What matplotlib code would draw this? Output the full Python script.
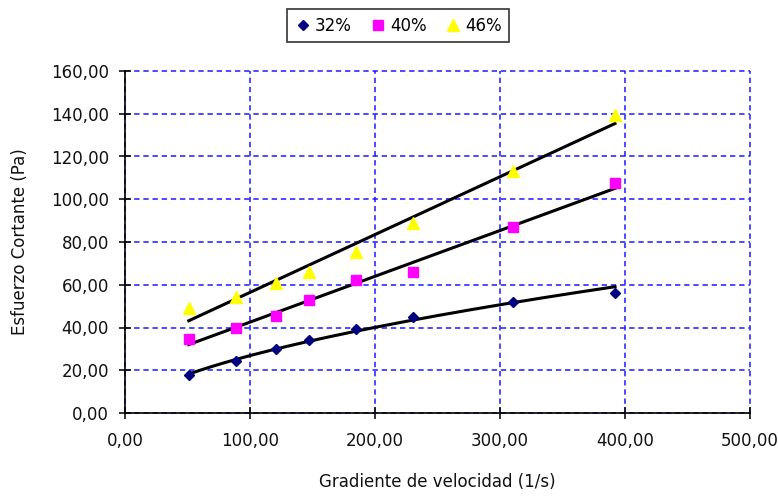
import numpy as np
import matplotlib
matplotlib.use("Agg")
import matplotlib.pyplot as plt
from matplotlib.ticker import FuncFormatter

plt.rcParams['font.family'] = ['DejaVu Sans']

# Shear rate (1/s)
gradiente = [51, 89, 121, 147, 185, 230, 310, 392]
# Shear stress (Pa) per concentration
esf_32 = [18.0, 24.5, 30.0, 34.0, 39.5, 45.0, 52.0, 56.0]
esf_40 = [34.5, 40.0, 45.5, 53.0, 62.0, 66.0, 87.0, 107.5]
esf_46 = [49.0, 54.5, 61.0, 66.0, 75.5, 89.0, 113.0, 139.5]

x_ticks = [0, 100, 200, 300, 400, 500]
y_ticks = [0, 20, 40, 60, 80, 100, 120, 140, 160]

fig = plt.figure(figsize=(7.78, 4.98), dpi=100)
ax = fig.add_axes([125 / 778, 1 - 413 / 498, 625 / 778, 342 / 498])

x = np.array(gradiente, dtype=float)
xs = np.linspace(x.min(), x.max(), 200)

# trend lines: power law for 32 %, linear for the others
b32, lna32 = np.polyfit(np.log(x), np.log(esf_32), 1)
c40 = np.polyfit(x, esf_40, 1)
c46 = np.polyfit(x, esf_46, 1)
trends = [np.exp(lna32) * xs ** b32, np.polyval(c40, xs), np.polyval(c46, xs)]
for ty in trends:
    ax.plot(xs, ty, color='black', lw=2.2, zorder=3)

ax.plot(x, esf_32, linestyle='none', marker='D', ms=5.5, color='#000080',
        label='32%', zorder=4)
ax.plot(x, esf_40, linestyle='none', marker='s', ms=6.5, color='#ff00ff',
        label='40%', zorder=4)
ax.plot(x, esf_46, linestyle='none', marker='^', ms=8, color='#ffff00',
        label='46%', zorder=4)

ax.set_xlim(0, 500)
ax.set_ylim(0, 160)
ax.set_xticks(x_ticks)
ax.set_yticks(y_ticks)
fmt = FuncFormatter(lambda v, p: f"{v:.2f}".replace('.', ','))
ax.xaxis.set_major_formatter(fmt)
ax.yaxis.set_major_formatter(fmt)

ax.grid(True, color='#1a1aff', linestyle=(0, (3.5, 2.5)), linewidth=1.1)
ax.set_axisbelow(True)
# keep the grid lines on the outer edges fully visible
for gl in ax.get_xgridlines() + ax.get_ygridlines():
    gl.set_clip_on(False)
for s in ('top', 'right'):
    ax.spines[s].set_visible(False)
for s in ('left', 'bottom'):
    ax.spines[s].set_color('black')
    ax.spines[s].set_linewidth(1.2)
    ax.spines[s].set_zorder(2.5)
ax.tick_params(direction='inout', length=9, width=1.2, labelsize=12,
               colors='#111111', pad=7)
ax.tick_params(axis='x', pad=9)

ax.set_xlabel('Gradiente de velocidad (1/s)', fontsize=12, labelpad=17,
              color='#111111')
ax.set_ylabel('Esfuerzo Cortante (Pa)', fontsize=12, labelpad=16,
              color='#111111')

leg = fig.legend(loc='center', bbox_to_anchor=(398 / 778, 1 - 26 / 498), ncol=3,
                 frameon=True, fancybox=False, fontsize=12, handletextpad=0.2,
                 columnspacing=1.1, handlelength=1.0, borderpad=0.45)
leg.get_frame().set_edgecolor('black')
leg.get_frame().set_linewidth(1.2)

fig.savefig('out.png', dpi=100)
